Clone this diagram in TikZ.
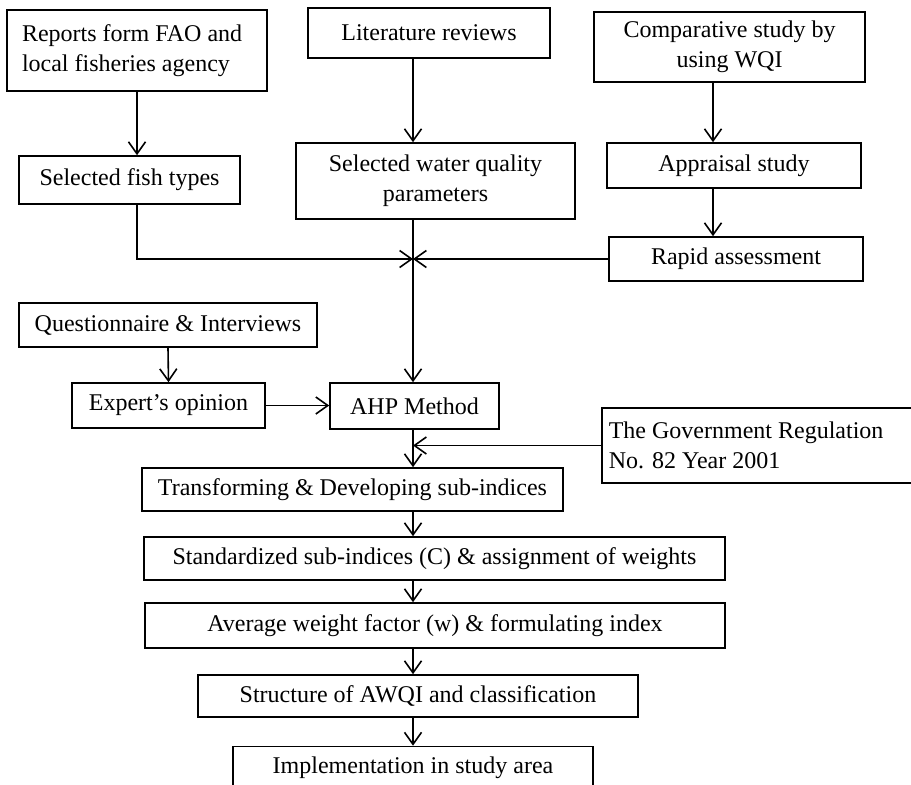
\documentclass[tikz,border=0pt]{standalone}
\usepackage{fontspec}
\setmainfont{Liberation Serif}
\usetikzlibrary{arrows.meta}
\begin{document}
\begin{tikzpicture}[x=1pt,y=-1pt,
  box/.style={draw, line width=1.6pt, inner sep=0pt, align=center, font=\fontsize{24}{30}\selectfont},
  arr/.style={line width=1.6pt, -{Straight Barb[length=12pt,width=17pt,line width=1.6pt]}}]
\clip (0,0) rectangle (911,785);
\coordinate (cx) at (413,0);
\coordinate (rx) at (713,0);
% top row
\node[box, minimum width=260pt, minimum height=81pt, text width=230pt, align=flush left] (rep) at (137,50.5) {Reports form FAO and\\local fisheries agency};
\node[box, minimum width=242pt, minimum height=50pt] (lit) at (429,33) {Literature reviews};
\node[box, minimum width=271pt, minimum height=70pt] (comp) at (729.5,47) {Comparative study by\\using WQI};
% second row
\node[box, minimum width=221pt, minimum height=48pt] (fish) at (129.5,180) {Selected fish types};
\node[box, minimum width=279pt, minimum height=76pt] (wqp) at (435.5,181) {Selected water quality\\parameters};
\node[box, minimum width=254pt, minimum height=45pt] (appr) at (734,165.5) {Appraisal study};
\node[box, minimum width=254pt, minimum height=44pt] (rapid) at (736,259) {Rapid assessment};
% middle
\node[box, minimum width=298pt, minimum height=44pt] (quest) at (168,325) {Questionnaire \& Interviews};
\node[box, minimum width=193pt, minimum height=45pt] (expert) at (168.5,405.5) {Expert’s opinion};
\node[box, minimum width=169pt, minimum height=46pt] (ahp) at (414.5,406) {AHP Method};
\node[box, minimum height=75pt, text width=316pt, inner xsep=7pt, align=flush left, anchor=west] (gov) at (601,445.5) {The Government Regulation\\No. 82 Year 2001};
% lower chain
\node[box, minimum width=421pt, minimum height=43pt] (trans) at (352.5,489.5) {Transforming \& Developing sub-indices};
\node[box, minimum width=581pt, minimum height=43pt] (std) at (434.5,558.5) {Standardized sub-indices (C) \& assignment of weights};
\node[box, minimum width=580pt, minimum height=45pt] (avg) at (435,625.5) {Average weight factor (w) \& formulating index};
\node[box, minimum width=440pt, minimum height=42pt] (struct) at (418,696) {Structure of AWQI and classification};
\node[box, minimum width=360pt, minimum height=43pt] (impl) at (413,768) {Implementation in study area};
% connectors
\coordinate (j) at (rapid.west -| cx);
\draw[arr] (rep.south) -- (rep.south |- fish.north);
\draw[arr] (lit.south -| cx) -- (wqp.north -| cx);
\draw[arr] (comp.south -| rx) -- (appr.north -| rx);
\draw[arr] (appr.south -| rx) -- (rapid.north -| rx);
\draw[arr] (wqp.south -| cx) -- (ahp.north -| cx);
\draw[arr] (fish.south -| rep.south) |- (j);
\draw[arr] (rapid.west) -- (j);
\draw[arr] (quest.south) -- (expert.north);
\draw[arr] (expert.east) -- (expert.east -| ahp.west);
\draw[arr] (ahp.south -| cx) -- (trans.north -| cx);
\draw[arr] (gov.west) -- (gov.west -| cx);
\draw[arr] (trans.south -| cx) -- (std.north -| cx);
\draw[arr] (std.south -| cx) -- (avg.north -| cx);
\draw[arr] (avg.south -| cx) -- (struct.north -| cx);
\draw[arr] (struct.south -| cx) -- (impl.north -| cx);
\end{tikzpicture}
\end{document}
